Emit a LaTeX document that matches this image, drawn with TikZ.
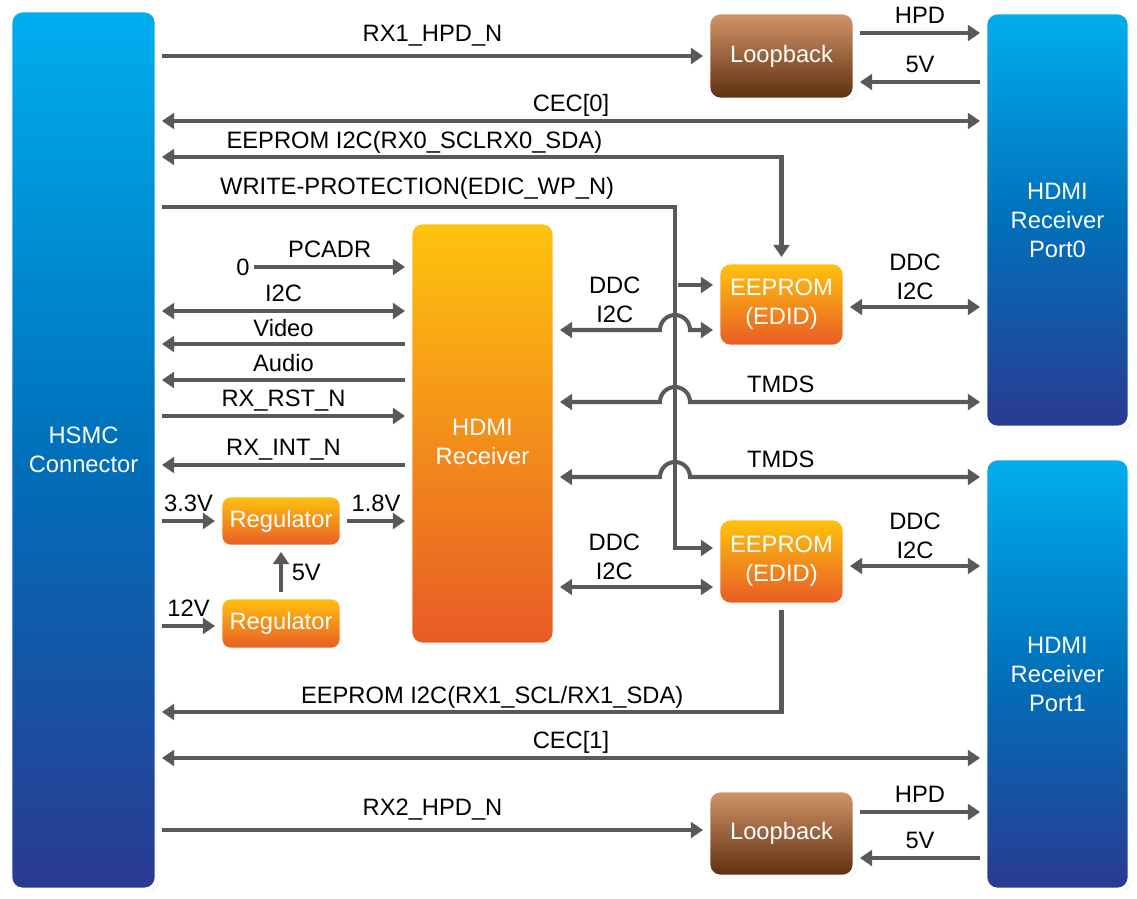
\documentclass[tikz,border=0pt]{standalone}
\usepackage{fontspec}
\setmainfont{Liberation Sans}
\usetikzlibrary{arrows.meta,calc,shadows}

\definecolor{linegray}{RGB}{89,89,89}
\definecolor{bluetop}{RGB}{0,174,239}
\definecolor{bluemid}{RGB}{0,112,186}
\definecolor{bluebot}{RGB}{42,58,145}
\definecolor{orgtop}{RGB}{255,196,14}
\definecolor{orgbot}{RGB}{232,90,38}
\definecolor{brntop}{RGB}{212,150,106}
\definecolor{brnbot}{RGB}{92,46,14}

\begin{document}
\begin{tikzpicture}[x=0.02cm,y=-0.02cm,
    font=\fontsize{13.5}{16.5}\selectfont,
    >={Triangle[length=7pt,width=9pt]},
    box/.style={draw=white,line width=2.6pt,rounded corners=7pt,text=white,align=center,inner sep=0pt,
      drop shadow={shadow xshift=1.2pt,shadow yshift=-1.2pt,opacity=0.22}},
    bluebox/.style={box,top color=bluetop,bottom color=bluebot,middle color=bluemid},
    orgbox/.style={box,top color=orgtop,bottom color=orgbot},
    brnbox/.style={box,top color=brntop,bottom color=brnbot},
    sig/.style={draw=linegray,line width=2.3pt,shorten >=1.5pt,shorten <=1.5pt},
    lbl/.style={inner sep=0pt,text depth=0pt,align=center,above=#1},
    lbl/.default=5.5pt]
  \useasboundingbox (0,0) rectangle (1137,899);

  \node[bluebox,minimum width=2.94cm,minimum height=17.6cm] (hsmc) at (83.5,450) {HSMC\\Connector};
  \node[bluebox,minimum width=2.9cm,minimum height=8.32cm] (port0) at (1057.5,220) {HDMI\\Receiver\\Port0};
  \node[bluebox,minimum width=2.9cm,minimum height=8.64cm] (port1) at (1057.5,674) {HDMI\\Receiver\\Port1};
  \node[brnbox,minimum width=2.94cm,minimum height=1.76cm] (lb1) at (781.5,56) {Loopback};
  \node[brnbox,minimum width=2.94cm,minimum height=1.74cm] (lb2) at (781.5,833.5) {Loopback};
  \node[orgbox,minimum width=2.9cm,minimum height=8.46cm] (rx) at (482.5,433.5) {\rule{0pt}{19pt}HDMI\\Receiver};
  \node[orgbox,minimum width=2.54cm,minimum height=1.7cm] (ee0) at (781.5,304.5) {EEPROM\\(EDID)};
  \node[orgbox,minimum width=2.54cm,minimum height=1.74cm] (ee1) at (781.5,561.5) {EEPROM\\(EDID)};
  \node[orgbox,minimum width=2.44cm,minimum height=1.04cm,rounded corners=6pt] (reg1) at (281,521) {Regulator};
  \node[orgbox,minimum width=2.44cm,minimum height=1.06cm,rounded corners=6pt] (reg2) at (281,623.5) {Regulator};
  \node[inner sep=1pt] (zero) at (243,267) {0};
  \coordinate (wp) at (675,207);

  % port 0 side
  \draw[sig,->] (hsmc.east |- lb1.west) -- node[lbl=7pt]{RX1\_HPD\_N} (lb1.west);
  \draw[sig,->] (lb1.east |- 0,33) -- node[lbl=4.5pt]{HPD} (port0.west |- 0,33);
  \draw[sig,<-] (lb1.east |- 0,82) -- node[lbl=4.5pt]{5V} (port0.west |- 0,82);
  \draw[sig,<->] (hsmc.east |- 0,121) -- node[lbl=4.5pt]{CEC[0]} (port0.west |- 0,121);
  \draw[sig,<->] (hsmc.east |- 0,157) -- node[lbl=3.5pt,pos=0.41]{EEPROM I2C(RX0\_SCLRX0\_SDA)} (ee0.north |- 0,157) -- (ee0.north);
  \draw[sig,->] (hsmc.east |- wp) -- node[lbl=6pt]{WRITE-PROTECTION(EDIC\_WP\_N)} (wp) -- (wp |- 0,548) -- (ee1.west |- 0,548);
  \draw[sig,->] (wp |- 0,285) -- (ee0.west |- 0,285);
  \draw[sig,<->] (rx.east |- 0,330) -- node[lbl=3pt,pos=0.56]{DDC\\I2C} ($(wp |- 0,330)+(-15,0)$)
    arc[start angle=180,end angle=360,radius=15] -- (ee0.west |- 0,330);
  \draw[sig,<->] (ee0.east |- 0,307) -- node[lbl=3pt]{DDC\\I2C} (port0.west |- 0,307);
  \draw[sig,<->] (rx.east |- 0,402) -- ($(wp |- 0,402)+(-15,0)$)
    arc[start angle=180,end angle=360,radius=15] -- node[lbl=4.5pt,pos=0.31]{TMDS} (port0.west |- 0,402);

  % receiver side
  \draw[sig,->] (zero) -- node[lbl=4.5pt]{PCADR} (rx.west |- zero);
  \draw[sig,<->] (hsmc.east |- 0,311) -- node[lbl=4pt]{I2C} (rx.west |- 0,311);
  \draw[sig,<-] (hsmc.east |- 0,344) -- node[lbl=3pt]{Video} (rx.west |- 0,344);
  \draw[sig,<-] (hsmc.east |- 0,380) -- node[lbl=3.5pt]{Audio} (rx.west |- 0,380);
  \draw[sig,->] (hsmc.east |- 0,416) -- node[lbl=4pt]{RX\_RST\_N} (rx.west |- 0,416);
  \draw[sig,<-] (hsmc.east |- 0,465) -- node[lbl=4.5pt]{RX\_INT\_N} (rx.west |- 0,465);
  \draw[sig,->] (hsmc.east |- reg1.west) -- node[lbl=4.5pt]{3.3V} (reg1.west);
  \draw[sig,->] (reg1.east) -- node[lbl=4.5pt]{1.8V} (rx.west |- reg1.east);
  \draw[sig,->] (reg2.north) -- node[right=5pt,inner sep=0pt]{5V} (reg1.south);
  \draw[sig,->] (hsmc.east |- 0,626) -- node[lbl=4.5pt]{12V} (reg2.west |- 0,626);

  % port 1 side
  \draw[sig,<->] (rx.east |- 0,477) -- ($(wp |- 0,477)+(-15,0)$)
    arc[start angle=180,end angle=360,radius=15] -- node[lbl=4.5pt,pos=0.31]{TMDS} (port1.west |- 0,477);
  \draw[sig,<->] (rx.east |- 0,587) -- node[lbl=3pt,pos=0.36]{DDC\\I2C} (ee1.west |- 0,587);
  \draw[sig,<->] (ee1.east |- 0,566) -- node[lbl=3pt]{DDC\\I2C} (port1.west |- 0,566);
  \draw[sig,->] (ee1.south) -- (ee1.south |- 0,712) -- node[lbl=3.5pt,pos=0.465]{EEPROM I2C(RX1\_SCL/RX1\_SDA)} (hsmc.east |- 0,712);
  \draw[sig,<->] (hsmc.east |- 0,758) -- node[lbl=4.5pt]{CEC[1]} (port1.west |- 0,758);
  \draw[sig,->] (hsmc.east |- 0,830) -- node[lbl=7pt]{RX2\_HPD\_N} (lb2.west |- 0,830);
  \draw[sig,->] (lb2.east |- 0,812) -- node[lbl=4.5pt]{HPD} (port1.west |- 0,812);
  \draw[sig,<-] (lb2.east |- 0,858) -- node[lbl=4.5pt]{5V} (port1.west |- 0,858);
\end{tikzpicture}
\end{document}
